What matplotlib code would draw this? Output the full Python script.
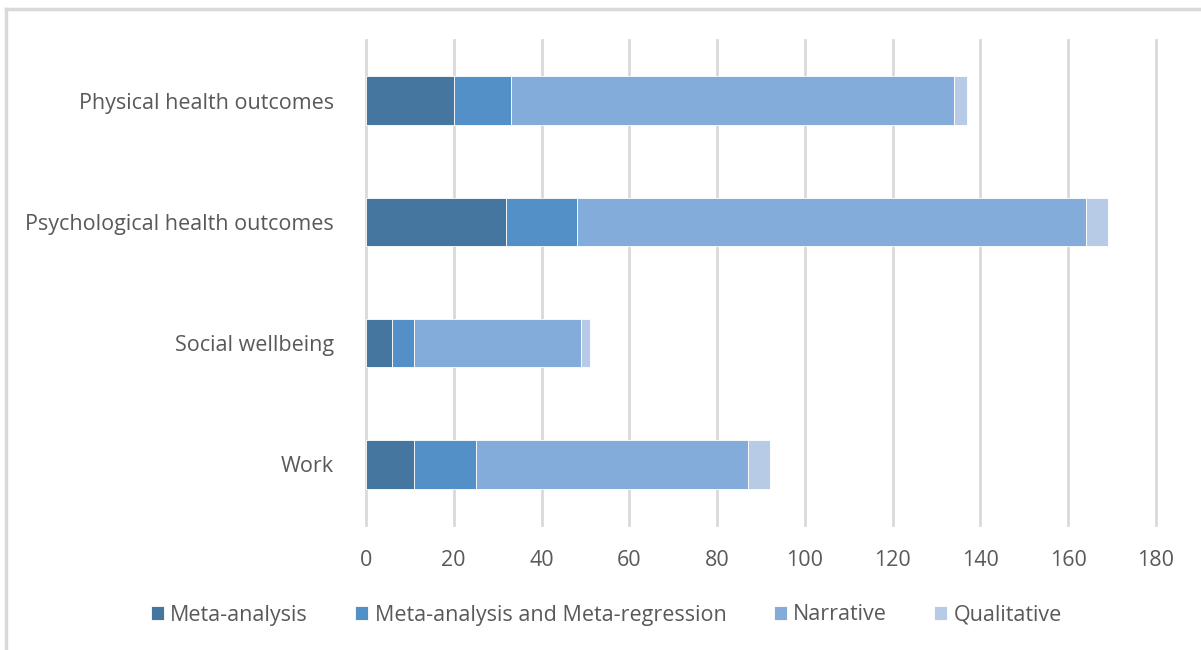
import matplotlib.pyplot as plt
from matplotlib.lines import Line2D
import numpy as np

plt.rcParams['font.family'] = ['Open Sans', 'DejaVu Sans']

categories = ['Physical health outcomes', 'Psychological health outcomes', 'Social wellbeing', 'Work']
series_names = ['Meta-analysis', 'Meta-analysis and Meta-regression', 'Narrative', 'Qualitative']
meta_analysis = [20, 32, 6, 11]
meta_regression = [13, 16, 5, 14]
narrative = [101, 116, 38, 62]
qualitative = [3, 5, 2, 5]
x_ticks = [0, 20, 40, 60, 80, 100, 120, 140, 160, 180]

colors = ['#44769f', '#5390c8', '#83acdb', '#b7cbe6']
text_col = '#595959'

fig = plt.figure(figsize=(12.01, 6.5), dpi=100)
ax = fig.add_axes([0.3047, 0.1923, 0.6578, 0.7462])

# frame lines along the top and left edge of the image
fig.add_artist(Line2D([6 / 1201, 6 / 1201], [0, 1 - 9 / 650], color='#d9d9d9', lw=2.5))
fig.add_artist(Line2D([6 / 1201, 1], [1 - 9 / 650, 1 - 9 / 650], color='#d9d9d9', lw=2.5))

y = np.arange(len(categories))
left = np.zeros(len(categories))
for name, vals, c in zip(series_names, [meta_analysis, meta_regression, narrative, qualitative], colors):
    ax.barh(y, vals, left=left, height=0.4, color=c, edgecolor='white', linewidth=0.6, label=name, zorder=3)
    left += np.array(vals)

ax.set_ylim(3.5, -0.5)
ax.set_xlim(0, 180)
ax.set_xticks(x_ticks)
ax.set_yticks(y)
ax.set_yticklabels(categories)
ax.xaxis.grid(True, color='#d9d9d9', lw=2, zorder=0)
for gl in ax.get_xgridlines():
    gl.set_clip_on(False)
for s in ax.spines.values():
    s.set_visible(False)
ax.tick_params(axis='both', length=0, colors=text_col, labelsize=15.5)
ax.tick_params(axis='x', pad=18)
ax.tick_params(axis='y', pad=23)

handles, labels = ax.get_legend_handles_labels()
leg = fig.legend(handles, labels, loc='center', bbox_to_anchor=(0.505, 1 - 615 / 650), ncol=4,
                 frameon=False, fontsize=15.5, handlelength=0.6, handleheight=0.6,
                 handletextpad=0.3, columnspacing=2.2)
for t in leg.get_texts():
    t.set_color(text_col)

fig.savefig('out.png', dpi=100, facecolor='white')
